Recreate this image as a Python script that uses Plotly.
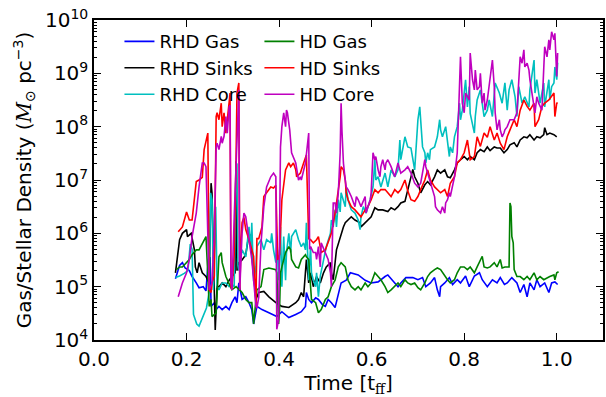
import plotly.graph_objects as go

# Each series: (time [t_ff], log10 density [M_sun pc^-3])
rhd_gas = [(0.176,5.15),(0.185,5.40),(0.191,5.45),(0.197,5.35),(0.206,5.30),(0.212,5.19),(0.221,5.07),(0.227,4.98),(0.236,5.00),(0.242,4.92),(0.247,5.50),(0.251,5.55),(0.253,4.63),(0.260,4.70),(0.264,4.57),(0.270,4.63),(0.277,4.57),(0.285,4.63),(0.292,4.57),(0.298,4.70),(0.305,4.81),(0.309,4.70),(0.313,5.07),(0.320,4.76),(0.328,4.81),(0.335,4.70),(0.341,4.57),(0.345,4.30),(0.352,4.63),(0.363,4.57),(0.378,4.51),(0.395,4.44),(0.406,4.53),(0.421,4.42),(0.436,4.48),(0.448,4.53),(0.457,4.63),(0.459,4.89),(0.464,4.76),(0.470,4.70),(0.479,4.79),(0.485,4.76),(0.494,4.66),(0.500,4.63),(0.506,4.76),(0.513,4.70),(0.521,4.61),(0.528,4.89),(0.534,5.07),(0.545,5.12),(0.554,5.26),(0.571,5.22),(0.586,5.12),(0.599,5.07),(0.614,5.09),(0.629,5.19),(0.635,5.22),(0.650,5.07),(0.657,5.00),(0.663,5.07),(0.674,5.17),(0.689,5.17),(0.700,5.13),(0.710,5.17),(0.717,5.00),(0.727,5.07),(0.736,5.17),(0.742,4.94),(0.747,4.81),(0.749,5.00),(0.758,5.07),(0.768,5.17),(0.775,5.04),(0.785,5.13),(0.792,5.07),(0.803,5.20),(0.811,5.00),(0.822,5.20),(0.833,5.26),(0.839,5.13),(0.850,5.00),(0.861,5.13),(0.871,5.07),(0.878,5.17),(0.887,5.04),(0.893,5.07),(0.903,5.17),(0.914,5.07),(0.921,4.89),(0.929,5.04),(0.936,4.81),(0.942,5.07),(0.951,4.94),(0.957,5.13),(0.964,5.00),(0.974,5.07),(0.983,4.89),(0.989,5.07),(0.996,5.09),(1.002,5.04)]

rhd_sinks = [(0.176,5.26),(0.185,5.88),(0.191,6.00),(0.200,6.07),(0.202,5.94),(0.210,6.00),(0.217,5.69),(0.219,5.37),(0.223,5.26),(0.227,5.45),(0.234,5.26),(0.242,5.19),(0.249,5.07),(0.253,6.94),(0.255,6.76),(0.260,4.60),(0.262,4.19),(0.266,5.00),(0.270,5.00),(0.277,5.07),(0.285,5.00),(0.292,5.12),(0.298,5.19),(0.305,5.26),(0.307,7.35),(0.309,5.30),(0.313,5.45),(0.320,5.50),(0.328,5.60),(0.335,6.00),(0.339,5.94),(0.341,5.64),(0.343,5.40),(0.350,4.76),(0.356,4.89),(0.367,4.91),(0.378,4.81),(0.393,4.70),(0.406,4.63),(0.421,4.61),(0.436,4.70),(0.442,4.76),(0.448,4.89),(0.453,4.81),(0.459,5.51),(0.464,5.07),(0.468,5.26),(0.474,5.00),(0.481,5.19),(0.489,5.07),(0.496,5.26),(0.502,5.37),(0.511,5.45),(0.513,5.26),(0.517,5.13),(0.524,5.69),(0.532,5.94),(0.539,6.12),(0.543,6.20),(0.549,6.25),(0.556,6.31),(0.564,6.25),(0.575,6.20),(0.577,6.12),(0.586,6.20),(0.592,6.25),(0.599,6.31),(0.607,6.48),(0.614,6.44),(0.624,6.44),(0.635,6.41),(0.642,6.48),(0.650,6.44),(0.657,6.50),(0.663,6.57),(0.672,6.60),(0.678,6.82),(0.685,7.10),(0.689,7.20),(0.693,7.06),(0.700,6.94),(0.706,6.76),(0.715,6.91),(0.721,6.97),(0.727,6.91),(0.736,7.06),(0.742,7.19),(0.749,7.13),(0.758,7.19),(0.764,7.06),(0.770,7.04),(0.779,7.19),(0.785,7.32),(0.792,7.38),(0.800,7.44),(0.807,7.38),(0.813,7.44),(0.822,7.38),(0.828,7.51),(0.835,7.57),(0.843,7.53),(0.850,7.62),(0.856,7.55),(0.865,7.62),(0.871,7.60),(0.878,7.60),(0.886,7.51),(0.893,7.57),(0.899,7.66),(0.908,7.70),(0.914,7.62),(0.921,7.75),(0.929,7.81),(0.936,7.79),(0.942,7.85),(0.951,7.75),(0.957,7.81),(0.964,7.79),(0.972,7.85),(0.974,7.98),(0.979,7.85),(0.985,7.88),(0.994,7.85),(1.000,7.81)]

rhd_core = [(0.176,5.17),(0.185,5.20),(0.195,5.25),(0.203,5.30),(0.208,5.80),(0.212,5.70),(0.215,4.48),(0.222,4.30),(0.227,4.26),(0.236,4.44),(0.243,4.60),(0.249,4.90),(0.252,6.76),(0.255,6.63),(0.258,4.94),(0.263,6.50),(0.266,5.00),(0.270,4.94),(0.277,5.07),(0.285,5.07),(0.292,5.00),(0.298,5.04),(0.303,5.00),(0.307,7.32),(0.309,7.30),(0.311,5.40),(0.313,5.30),(0.320,5.69),(0.328,5.56),(0.335,6.12),(0.339,5.69),(0.341,6.20),(0.345,5.10),(0.350,5.37),(0.352,5.75),(0.361,5.88),(0.367,5.69),(0.373,5.88),(0.382,5.82),(0.384,6.00),(0.388,5.69),(0.393,5.45),(0.395,5.94),(0.399,5.12),(0.403,6.12),(0.406,5.00),(0.410,5.94),(0.414,5.12),(0.416,5.64),(0.421,6.00),(0.425,5.64),(0.427,5.94),(0.436,6.07),(0.442,5.88),(0.448,5.75),(0.453,5.82),(0.457,5.69),(0.459,6.20),(0.464,5.12),(0.468,5.75),(0.470,5.26),(0.474,5.12),(0.479,5.00),(0.481,5.26),(0.485,4.81),(0.489,5.20),(0.496,5.51),(0.502,5.75),(0.511,6.00),(0.513,6.25),(0.517,6.12),(0.521,6.44),(0.524,6.12),(0.528,6.63),(0.532,6.40),(0.534,6.76),(0.543,6.50),(0.545,6.87),(0.549,6.63),(0.556,6.44),(0.564,6.38),(0.571,6.25),(0.575,6.07),(0.577,6.31),(0.582,6.50),(0.588,6.38),(0.597,6.63),(0.603,6.87),(0.607,7.38),(0.609,7.00),(0.614,7.06),(0.620,6.87),(0.629,7.13),(0.635,6.87),(0.642,7.19),(0.650,7.06),(0.657,7.19),(0.661,7.75),(0.663,7.38),(0.672,7.81),(0.678,7.62),(0.685,7.60),(0.693,7.19),(0.700,8.13),(0.704,8.37),(0.706,8.13),(0.710,7.62),(0.715,7.51),(0.717,7.32),(0.721,7.51),(0.725,7.38),(0.727,7.57),(0.736,7.62),(0.742,7.81),(0.747,8.13),(0.749,7.94),(0.753,7.81),(0.760,8.00),(0.764,7.69),(0.768,7.44),(0.770,7.62),(0.775,7.51),(0.779,7.81),(0.785,8.00),(0.790,8.44),(0.792,8.13),(0.796,8.31),(0.800,8.63),(0.803,8.88),(0.807,8.37),(0.811,8.75),(0.813,8.25),(0.818,8.00),(0.822,7.88),(0.824,8.19),(0.828,8.50),(0.835,8.69),(0.839,8.44),(0.843,8.19),(0.850,8.31),(0.854,8.50),(0.861,8.19),(0.865,8.56),(0.867,8.82),(0.876,8.63),(0.882,8.44),(0.888,8.82),(0.893,8.31),(0.897,8.69),(0.903,8.88),(0.910,8.56),(0.914,8.19),(0.918,8.75),(0.925,8.44),(0.931,8.56),(0.940,8.37),(0.942,8.69),(0.951,9.25),(0.953,8.63),(0.957,8.88),(0.964,8.44),(0.972,8.82),(0.974,8.37),(0.983,8.88),(0.985,8.50),(0.989,8.75),(0.994,8.82),(0.996,9.12),(1.000,8.88),(1.002,9.20)]

hd_gas = [(0.178,5.32),(0.185,5.37),(0.191,5.37),(0.200,5.45),(0.206,5.51),(0.212,5.60),(0.221,5.69),(0.227,5.69),(0.234,5.82),(0.238,5.88),(0.242,5.94),(0.245,5.40),(0.249,4.63),(0.253,4.76),(0.255,4.44),(0.264,4.51),(0.270,5.56),(0.275,5.64),(0.277,5.45),(0.285,5.19),(0.292,5.07),(0.298,4.94),(0.307,5.00),(0.313,4.94),(0.320,4.89),(0.328,4.76),(0.335,4.70),(0.341,4.70),(0.345,4.30),(0.350,4.76),(0.352,4.94),(0.361,5.00),(0.367,5.32),(0.378,5.35),(0.393,5.32),(0.395,5.26),(0.399,4.30),(0.401,4.57),(0.403,5.26),(0.406,5.37),(0.414,5.64),(0.421,5.75),(0.425,5.69),(0.427,5.51),(0.436,5.37),(0.442,5.35),(0.448,5.51),(0.457,5.60),(0.459,5.56),(0.464,5.51),(0.468,5.00),(0.470,4.76),(0.479,4.70),(0.485,4.51),(0.491,4.57),(0.500,4.76),(0.506,4.81),(0.513,5.00),(0.521,5.12),(0.528,5.37),(0.534,5.45),(0.543,5.37),(0.549,5.12),(0.556,5.00),(0.564,4.94),(0.571,5.00),(0.577,4.94),(0.586,5.07),(0.592,5.00),(0.599,5.07),(0.607,5.26),(0.614,5.19),(0.620,5.13),(0.629,5.00),(0.635,4.89),(0.642,4.94),(0.650,5.00),(0.657,5.07),(0.663,5.00),(0.672,5.13),(0.678,5.07),(0.685,5.04),(0.693,5.07),(0.700,4.98),(0.706,4.94),(0.715,5.07),(0.721,5.19),(0.727,5.26),(0.736,5.32),(0.742,5.35),(0.749,5.32),(0.758,5.19),(0.764,5.13),(0.770,5.07),(0.779,5.13),(0.785,5.26),(0.792,5.37),(0.800,5.37),(0.807,5.32),(0.813,5.37),(0.822,5.26),(0.828,5.37),(0.835,5.51),(0.839,5.57),(0.843,5.37),(0.850,5.35),(0.856,5.37),(0.865,5.45),(0.871,5.37),(0.878,5.51),(0.882,5.35),(0.888,5.37),(0.897,5.37),(0.899,6.57),(0.901,6.50),(0.903,5.94),(0.906,5.82),(0.908,5.32),(0.914,5.19),(0.921,5.19),(0.929,5.13),(0.936,5.19),(0.942,5.13),(0.951,5.26),(0.957,5.13),(0.964,5.19),(0.972,5.13),(0.979,5.17),(0.985,5.19),(0.994,5.22),(0.996,5.13),(1.000,5.26),(1.004,5.28)]

hd_sinks = [(0.182,6.03),(0.191,6.12),(0.200,6.40),(0.206,6.25),(0.212,6.25),(0.221,6.97),(0.227,7.00),(0.234,7.05),(0.238,7.57),(0.242,7.75),(0.246,7.88),(0.249,4.94),(0.253,4.89),(0.255,5.07),(0.260,5.20),(0.264,8.19),(0.266,8.26),(0.270,8.13),(0.275,8.44),(0.277,8.00),(0.281,8.26),(0.285,7.88),(0.288,8.19),(0.292,8.45),(0.294,8.63),(0.296,5.00),(0.298,4.94),(0.303,5.60),(0.307,7.38),(0.309,8.63),(0.313,8.82),(0.315,4.94),(0.318,5.90),(0.320,6.20),(0.324,6.30),(0.328,6.07),(0.335,5.88),(0.341,5.69),(0.345,5.57),(0.350,4.63),(0.352,5.90),(0.356,5.90),(0.363,6.12),(0.367,6.69),(0.373,6.76),(0.382,6.87),(0.388,6.85),(0.393,6.90),(0.397,5.50),(0.401,5.60),(0.406,6.63),(0.414,7.19),(0.421,7.32),(0.425,7.25),(0.431,7.32),(0.436,7.19),(0.438,7.06),(0.446,7.13),(0.453,7.32),(0.459,7.47),(0.464,5.90),(0.468,5.88),(0.474,5.82),(0.481,5.88),(0.485,5.94),(0.491,5.64),(0.500,5.69),(0.506,5.82),(0.513,6.00),(0.521,6.38),(0.528,6.76),(0.532,7.06),(0.534,7.25),(0.539,7.19),(0.543,7.00),(0.545,6.76),(0.549,6.63),(0.556,6.50),(0.564,6.44),(0.571,6.38),(0.577,6.31),(0.586,6.44),(0.592,6.50),(0.599,6.63),(0.607,6.82),(0.614,6.76),(0.620,6.82),(0.629,6.82),(0.635,6.76),(0.642,6.69),(0.650,6.82),(0.657,6.76),(0.663,6.82),(0.672,7.00),(0.678,6.80),(0.685,6.63),(0.693,6.60),(0.700,6.69),(0.706,6.82),(0.715,7.00),(0.721,7.19),(0.727,7.00),(0.736,6.87),(0.742,6.82),(0.749,6.76),(0.758,6.82),(0.764,6.69),(0.770,6.94),(0.779,7.06),(0.785,7.32),(0.792,7.38),(0.800,7.51),(0.807,7.75),(0.813,7.38),(0.822,7.44),(0.828,7.81),(0.835,7.63),(0.843,7.88),(0.850,7.80),(0.856,8.00),(0.865,7.75),(0.871,7.88),(0.878,7.69),(0.886,7.57),(0.893,7.81),(0.899,7.94),(0.908,8.13),(0.914,8.00),(0.921,8.31),(0.929,8.50),(0.936,8.38),(0.942,8.31),(0.951,8.44),(0.953,8.00),(0.961,8.13),(0.968,8.38),(0.974,8.44),(0.983,8.50),(0.989,8.56),(0.994,8.63),(0.996,8.19),(1.000,8.44),(1.002,8.45)]

hd_core = [(0.182,4.81),(0.191,5.07),(0.200,5.26),(0.206,5.51),(0.212,5.94),(0.221,6.38),(0.227,6.87),(0.234,7.32),(0.238,7.32),(0.242,7.25),(0.245,6.30),(0.249,4.94),(0.255,5.07),(0.260,6.00),(0.264,7.62),(0.266,7.69),(0.270,7.57),(0.275,7.82),(0.277,7.69),(0.281,7.82),(0.285,8.19),(0.288,7.88),(0.292,8.37),(0.294,8.40),(0.296,5.10),(0.298,4.94),(0.303,6.31),(0.307,7.38),(0.309,7.90),(0.313,8.69),(0.315,4.94),(0.320,6.00),(0.324,6.38),(0.328,6.31),(0.335,5.88),(0.341,5.51),(0.350,4.63),(0.352,4.60),(0.356,4.80),(0.361,5.82),(0.367,6.50),(0.373,6.87),(0.382,7.06),(0.388,7.13),(0.393,7.06),(0.395,4.20),(0.399,4.38),(0.403,7.62),(0.406,8.00),(0.410,8.26),(0.414,8.00),(0.416,8.31),(0.418,8.26),(0.423,7.94),(0.427,7.51),(0.436,7.32),(0.442,7.00),(0.446,7.06),(0.448,7.00),(0.457,7.32),(0.464,7.88),(0.466,5.70),(0.468,5.75),(0.474,5.64),(0.479,5.64),(0.481,5.51),(0.485,5.75),(0.489,5.37),(0.491,5.82),(0.500,5.64),(0.506,5.51),(0.511,5.26),(0.513,5.00),(0.517,6.57),(0.521,6.57),(0.524,6.38),(0.528,6.76),(0.532,7.51),(0.534,8.44),(0.536,7.90),(0.539,7.32),(0.543,7.00),(0.545,6.87),(0.549,6.82),(0.556,6.69),(0.564,6.50),(0.567,6.69),(0.571,6.63),(0.577,6.50),(0.586,6.69),(0.588,6.38),(0.592,6.50),(0.597,6.63),(0.599,6.76),(0.603,7.51),(0.607,7.38),(0.609,7.44),(0.614,7.19),(0.618,7.06),(0.620,7.25),(0.624,7.38),(0.629,7.19),(0.631,7.32),(0.635,7.38),(0.642,7.25),(0.650,7.06),(0.657,7.32),(0.661,7.19),(0.663,7.13),(0.672,7.19),(0.678,7.25),(0.685,7.13),(0.693,6.94),(0.700,6.87),(0.706,6.94),(0.715,7.38),(0.717,7.25),(0.721,7.13),(0.727,6.94),(0.736,6.69),(0.738,6.50),(0.742,6.44),(0.749,6.38),(0.753,6.50),(0.758,6.38),(0.760,6.57),(0.764,6.63),(0.768,6.76),(0.770,6.69),(0.779,7.06),(0.785,7.51),(0.790,8.75),(0.792,9.31),(0.796,8.44),(0.800,8.26),(0.803,8.63),(0.811,8.50),(0.813,9.38),(0.818,8.88),(0.822,8.69),(0.824,9.06),(0.828,8.69),(0.833,8.75),(0.835,9.00),(0.839,8.44),(0.843,8.63),(0.845,8.31),(0.850,8.50),(0.856,8.88),(0.861,9.25),(0.865,8.75),(0.867,8.26),(0.871,7.94),(0.876,8.13),(0.878,7.94),(0.882,7.81),(0.886,7.88),(0.888,7.94),(0.893,8.00),(0.899,8.13),(0.908,8.13),(0.914,8.26),(0.921,9.31),(0.925,9.19),(0.929,9.44),(0.931,9.12),(0.936,9.19),(0.940,9.06),(0.942,8.88),(0.946,8.63),(0.951,8.37),(0.953,8.26),(0.957,8.56),(0.961,8.44),(0.968,8.31),(0.972,9.20),(0.974,9.50),(0.979,9.31),(0.983,9.63),(0.985,9.44),(0.989,9.78),(0.994,9.63),(0.996,9.75),(1.000,8.94),(1.002,9.38)]

x_tick_vals = [0.0, 0.2, 0.4, 0.6, 0.8, 1.0]
x_tick_text = ["0.0", "0.2", "0.4", "0.6", "0.8", "1.0"]
y_tick_exps = [4, 5, 6, 7, 8, 9, 10]

series = [
    ("RHD Gas", rhd_gas, "#0000ff", "legend", 1),
    ("RHD Sinks", rhd_sinks, "#000000", "legend", 2),
    ("RHD Core", rhd_core, "#00bfbf", "legend", 3),
    ("HD Gas", hd_gas, "#008000", "legend2", 1),
    ("HD Sinks", hd_sinks, "#ff0000", "legend2", 2),
    ("HD Core", hd_core, "#bf00bf", "legend2", 3),
]

fig = go.Figure()
for name, data, color, leg, rank in series:
    fig.add_trace(go.Scatter(
        x=[p[0] for p in data],
        y=[10 ** p[1] for p in data],
        mode="lines", name=name, legend=leg, legendrank=rank,
        line=dict(color=color, width=1.6),
    ))

legend_common = dict(xanchor="left", yanchor="top", bgcolor="rgba(0,0,0,0)",
                     font=dict(size=18, family="DejaVu Sans", color="black"),
                     borderwidth=0, tracegroupgap=0)

fig.update_layout(
    width=606, height=397,
    margin=dict(l=94, r=1, t=20, b=57),
    plot_bgcolor="white", paper_bgcolor="white",
    font=dict(family="DejaVu Sans", size=20, color="black"),
    legend=dict(x=0.05, y=0.99, **legend_common),
    legend2=dict(x=0.325, y=0.99, **legend_common),
)

fig.update_xaxes(
    range=[0, 1.1], tickvals=x_tick_vals, ticktext=x_tick_text,
    ticks="inside", ticklen=7, tickwidth=1, tickcolor="black",
    showline=True, linewidth=1.5, linecolor="black", mirror="ticks",
    showgrid=False, zeroline=False,
    title=dict(text="Time [t<sub><span style='font-family:DejaVu Serif'>ff</span></sub>]",
               font=dict(size=20), standoff=6),
)
fig.update_yaxes(
    type="log", range=[4, 10],
    tickvals=[10 ** e for e in y_tick_exps],
    ticktext=["10<sup>%d</sup>" % e for e in y_tick_exps],
    ticks="inside", ticklen=7, tickwidth=1, tickcolor="black",
    minor=dict(ticks="inside", ticklen=3.5, dtick="D1", tickcolor="black", showgrid=False),
    showline=True, linewidth=1.5, linecolor="black", mirror="ticks",
    showgrid=False, zeroline=False,
    title=dict(text="Gas/Stellar Density (<span style='font-family:DejaVu Serif'><i>M</i></span><sub>⊙</sub> pc<sup>−3</sup>)",
               font=dict(size=20), standoff=8),
)

fig.write_html("out.html")
